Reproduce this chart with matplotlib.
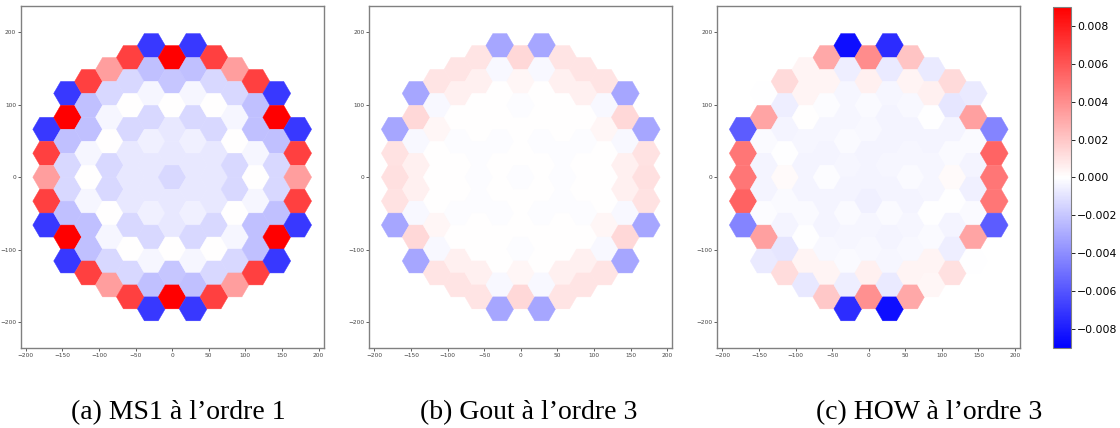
import numpy as np
import matplotlib
matplotlib.use("Agg")
import matplotlib.pyplot as plt
from matplotlib.patches import RegularPolygon
from matplotlib.collections import PatchCollection
from matplotlib.colors import Normalize

# ecarts en 1e-3, une liste par colonne (gauche -> droite), valeurs du haut vers le bas
ms1 = [
    [-7.0, 6.7, 3.4, 6.7, -7.0],
    [-7.0, 9.0, -2.2, -1.4, -1.4, -2.2, 9.0, -7.0],
    [6.7, -2.2, -2.2, -0.35, 0.0, -0.35, -2.2, -2.2, 6.7],
    [3.4, -1.4, -0.35, 0.0, -1.4, -1.4, 0.0, -0.35, -1.4, 3.4],
    [6.7, -1.4, 0.0, -1.4, -0.8, -0.8, -0.8, -1.4, 0.0, -1.4, 6.7],
    [-7.0, -2.2, -0.35, -1.4, -0.5, -0.8, -0.8, -0.5, -1.4, -0.35, -2.2, -7.0],
    [9.0, -2.0, 0.0, -0.8, -0.8, -1.4, -0.8, -0.8, 0.0, -2.0, 9.0],
    [-7.0, -2.2, -0.35, -1.4, -0.5, -0.8, -0.8, -0.5, -1.4, -0.35, -2.2, -7.0],
    [6.7, -1.4, 0.0, -1.4, -0.8, -0.8, -0.8, -1.4, 0.0, -1.4, 6.7],
    [3.4, -1.4, -0.35, 0.0, -1.4, -1.4, 0.0, -0.35, -1.4, 3.4],
    [6.7, -2.2, -2.2, -0.35, 0.0, -0.35, -2.2, -2.2, 6.7],
    [-7.0, 9.0, -2.2, -1.4, -1.4, -2.2, 9.0, -7.0],
    [-7.0, 6.7, 3.4, 6.7, -7.0],
]

gout = [
    [-3.1, 1.0, 1.1, 1.0, -3.1],
    [-3.1, 1.4, -0.25, 0.5, 0.5, -0.25, 1.4, -3.1],
    [0.95, -0.25, 0.35, 0.0, 0.0, 0.0, 0.35, -0.25, 0.95],
    [0.95, 0.5, 0.0, -0.14, 0.0, 0.0, -0.14, 0.0, 0.5, 0.95],
    [0.95, 0.5, 0.0, 0.0, -0.1, -0.14, -0.1, 0.0, 0.0, 0.5, 0.95],
    [-3.1, -0.25, 0.0, 0.0, -0.14, 0.0, 0.0, -0.14, 0.0, 0.0, -0.25, -3.1],
    [1.4, 0.35, -0.14, 0.0, 0.0, -0.14, 0.0, 0.0, -0.14, 0.35, 1.4],
    [-3.1, -0.25, 0.0, 0.0, -0.14, 0.0, 0.0, -0.14, 0.0, 0.0, -0.25, -3.1],
    [0.95, 0.5, 0.0, 0.0, -0.1, -0.14, -0.1, 0.0, 0.0, 0.5, 0.95],
    [0.95, 0.5, 0.0, -0.14, 0.0, 0.0, -0.14, 0.0, 0.5, 0.95],
    [0.95, -0.25, 0.35, 0.0, 0.0, 0.0, 0.35, -0.25, 0.95],
    [-3.1, 1.4, -0.25, 0.5, 0.5, -0.25, 1.4, -3.1],
    [-3.1, 1.0, 1.1, 1.0, -3.1],
]

how = [
    [-5.75, 4.8, 4.8, 5.5, -4.35],
    [-0.07, 3.2, -0.18, -0.42, -0.42, -0.1, 3.35, -0.74],
    [1.3, -0.6, -0.42, -0.07, 0.2, -0.18, -0.42, -0.88, 1.23],
    [0.4, 0.4, 0.0, -0.35, -0.42, -0.42, -0.18, -0.07, 0.4, -0.8],
    [3.07, 0.42, -0.14, -0.35, -0.42, -0.14, -0.42, -0.42, -0.25, 0.4, 1.94],
    [-8.44, -0.6, -0.35, -0.35, -0.18, -0.35, -0.42, -0.18, -0.35, -0.18, -0.6, -7.45],
    [4.06, 0.55, -0.18, -0.25, -0.42, -0.42, -0.53, -0.35, -0.25, 0.5, 3.92],
    [-7.45, -0.74, -0.35, -0.42, -0.42, -0.35, -0.42, -0.18, -0.42, -0.35, -0.74, -8.44],
    [2.08, 0.4, -0.25, -0.42, -0.35, -0.18, -0.42, -0.35, -0.25, 0.4, 3.07],
    [-0.74, 0.5, -0.07, -0.42, -0.35, -0.35, -0.07, -0.18, 0.4, 0.35],
    [1.3, -0.88, -0.42, -0.18, 0.2, -0.07, -0.42, -0.6, 1.09],
    [-0.74, 3.35, -0.18, -0.42, -0.53, -0.18, 3.21, -0.07],
    [-4.35, 5.47, 4.8, 4.8, -5.75],
]

captions = ["(a) MS1 à l’ordre 1", "(b) Gout à l’ordre 3", "(c) HOW à l’ordre 3"]
cbar_ticks = [-0.008, -0.006, -0.004, -0.002, 0.0, 0.002, 0.004, 0.006, 0.008]

pitch = 33.0
norm = Normalize(vmin=-0.009, vmax=0.009)


def hex_map(ax, cols):
    patches, vals = [], []
    nc = len(cols)
    for i, col in enumerate(cols):
        x = (i - (nc - 1) / 2) * pitch * np.sqrt(3) / 2
        n = len(col)
        for k, v in enumerate(col):
            y = ((n - 1) / 2 - k) * pitch
            patches.append(RegularPolygon((x, y), 6, radius=pitch / np.sqrt(3),
                                          orientation=np.pi / 6))
            vals.append(v * 1e-3)
    pc = PatchCollection(patches, cmap='bwr', norm=norm, edgecolor='face', linewidth=0.3)
    pc.set_array(np.array(vals))
    ax.add_collection(pc)
    ax.set_xlim(-207, 207)
    ax.set_ylim(-236, 236)
    ax.set_xticks(np.arange(-200, 201, 50))
    ax.set_yticks(np.arange(-200, 201, 100))
    ax.tick_params(labelsize=4.2, length=2, width=0.6, colors='#444', pad=1.2)
    for s in ax.spines.values():
        s.set_color('#808080')
        s.set_linewidth(1.0)
    return pc


fig = plt.figure(figsize=(11.2, 4.28), dpi=100)
lefts = [0.0185, 0.3297, 0.6404]
cap_x = [0.159, 0.472, 0.830]
for left, data, cap, cx in zip(lefts, [ms1, gout, how], captions, cap_x):
    ax = fig.add_axes([left, 0.186, 0.2705, 0.800])
    pc = hex_map(ax, data)
    fig.text(cx, 0.021, cap, family='Liberation Serif', fontsize=20,
             ha='center', va='baseline')

cax = fig.add_axes([0.9405, 0.187, 0.0155, 0.797])
cb = fig.colorbar(pc, cax=cax, ticks=cbar_ticks)
cb.ax.tick_params(labelsize=7.8, length=3, width=0.6, pad=1.5)
cb.outline.set_edgecolor('#808080')

fig.savefig("out.png", dpi=100)
